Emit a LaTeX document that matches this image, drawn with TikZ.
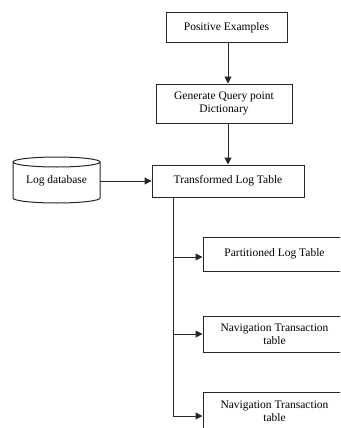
\documentclass[tikz,border=0pt]{standalone}
\usepackage{fontspec}
\setmainfont{Liberation Serif}
\usetikzlibrary{arrows.meta}
\tikzset{
  box/.style={draw=black!85, line width=1pt, fill=white, align=center, inner sep=1pt,
    font=\fontsize{11.5}{12.5}\selectfont, text=black},
  conn/.style={draw=black!85, line width=1pt},
  arr/.style={conn, -{Triangle[length=7pt,width=7pt]}},
}
\begin{document}
\begin{tikzpicture}[x=1pt,y=-1pt]
\useasboundingbox (0,0) rectangle (340,428);
\clip (0,0) rectangle (340,428);
\node[box, minimum width=121pt, minimum height=30pt] (pos) at (226.5,28) {Positive Examples};
\node[box, minimum width=136pt, minimum height=39pt] (gen) at (224,103.5) {Generate Query point\\Dictionary};
\node[box, minimum width=152pt, minimum height=32pt] (tlt) at (228,181) {Transformed Log Table};
\draw[conn] (13,162) -- (13,198) arc[start angle=180,end angle=360,x radius=43.5pt,y radius=5pt]
  -- (100,162) arc[start angle=0,end angle=360,x radius=43.5pt,y radius=5pt];
\node[align=center, minimum width=87pt, minimum height=46pt, inner sep=0pt,
  font=\fontsize{11.5}{12.5}\selectfont] (db) at (56.5,181) {Log database};
\node[box, minimum width=143pt, minimum height=34pt] (p1) at (274.5,254) {Partitioned Log Table};
\node[box, minimum width=143pt, minimum height=36pt] (n1) at (274.5,334) {Navigation Transaction\\table};
\node[box, minimum width=143pt, minimum height=38pt] (n2) at (274.5,411) {Navigation Transaction\\table};
\coordinate (tt) at (173,197);
\coordinate (tb) at (173,416);
\draw[arr] (pos.south -| tlt.north) -- (gen.north -| tlt.north);
\draw[arr] (gen.south -| tlt.north) -- (tlt.north);
\draw[arr] (db.east) -- (tlt.west);
\draw[conn] (tt) -- (tb);
\draw[arr] (tt |- 0,257) -- (p1.west |- 0,257);
\draw[arr] (tt |- n1.west) -- (n1.west);
\draw[arr] (tb) -- (n2.west |- tb);
\end{tikzpicture}
\end{document}
